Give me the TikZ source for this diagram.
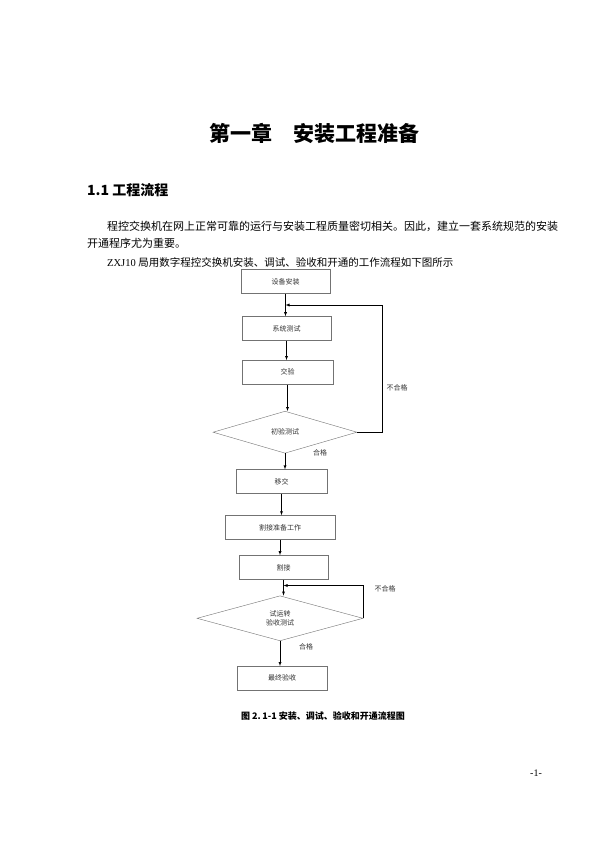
\documentclass[tikz,border=0pt]{standalone}
\usepackage{fontspec}
\setmainfont{Noto Sans CJK SC}
\newfontfamily\latinserif{Liberation Serif}
\usetikzlibrary{positioning,shapes.geometric}
\tikzstyle{block} = [draw=black!55, rectangle, minimum height=24pt, minimum width=89pt, inner sep=1pt, font=\fontsize{7}{8}\selectfont, text=black!80]
\tikzstyle{decision} = [draw=black!55, diamond, minimum width=144pt, minimum height=42pt, inner sep=0pt, align=center, font=\fontsize{7}{9}\selectfont, text=black!80]
\tikzstyle{note} = [inner sep=0pt, font=\fontsize{7}{8}\selectfont, text=black!80]
\tikzstyle{textline} = [inner sep=0pt, anchor=west]
\begin{document}
\begin{tikzpicture}[x=1pt,y=-1pt,node distance=20pt,>=latex]
		\useasboundingbox[fill=white] (0,0) rectangle (600,850);
		% page text
		\node (title) at (314,133) {\fontsize{21}{24}\selectfont\bfseries 第一章\hspace{1em}安装工程准备};
		\node (sec) [textline] at (87,190) {\fontsize{14}{16}\selectfont\bfseries 1.1 工程流程};
		\node (par1) [textline] at (107,226) {\fontsize{11}{13}\selectfont 程控交换机在网上正常可靠的运行与安装工程质量密切相关。因此，建立一套系统规范的安装};
		\node (par2) [textline] at (87,243) {\fontsize{11}{13}\selectfont 开通程序尤为重要。};
		\node (par3) [textline] at (107,262) {\fontsize{10.5}{13}\selectfont{\latinserif ZXJ10 }局用数字程控交换机安装、调试、验收和开通的工作流程如下图所示};
		
		% flow chart
		\node (setup) [block] at (285.5,281.5) {设备安装};
		\node (systest) [block, below=22.5pt of setup, xshift=1pt] {系统测试};
		\node (handover) [block, below=19.5pt of systest, xshift=1pt, minimum width=91pt] {交验};
		\node (check) [decision, below=26.5pt of handover, xshift=-2.5pt] {初验测试};
		\node (transfer) [block, below=16pt of check, xshift=-3.5pt, minimum width=91pt] {移交};
		\node (prep) [block, below=21.5pt of transfer, xshift=-1.5pt, minimum width=110pt] {割接准备工作};
		\node (cutover) [block, below=15.5pt of prep, xshift=3.5pt] {割接};
		\node (accept) [decision, below=16pt of cutover, xshift=-3.5pt, minimum width=166pt, minimum height=45pt] {试运转\\验收测试};
		\node (final) [block, below=25pt of accept, xshift=2pt, minimum width=90pt] {最终验收};
		
		\coordinate (back1) at (setup.south |- 0,305);
		\coordinate (back2) at (cutover.south |- 0,585.5);
		
		\draw [->] (setup.south) -- (setup.south |- systest.north);
		\draw [->] (systest.south) -- (systest.south |- handover.north);
		\draw [->] (handover.south) -- (handover.south |- check.north);
		\draw [->] (check.south) -- (check.south |- transfer.north);
		\draw [->] (transfer.south) -- (transfer.south |- prep.north);
		\draw [->] (prep.south) -- (prep.south |- cutover.north);
		\draw [->] (cutover.south) -- (cutover.south |- accept.north);
		\draw [->] (accept.south) -- (accept.south |- final.north);
		
		\draw [->] (check.east) -- ++(25,0) |- (back1);
		\draw [->] (accept.east) |- (back2);
		
		\node (fail1) [note] at (397,388) {不合格};
		\node (pass1) [note] at (320,453) {合格};
		\node (fail2) [note] at (385,589) {不合格};
		\node (pass2) [note] at (306,647) {合格};
		
		\node (caption) at (323,716) {\fontsize{9}{11}\selectfont\bfseries 图 2.\,1-1 安装、调试、验收和开通流程图};
		\node (page) at (536,773) {\latinserif\fontsize{10}{12}\selectfont -1-};
	\end{tikzpicture}
\end{document}
